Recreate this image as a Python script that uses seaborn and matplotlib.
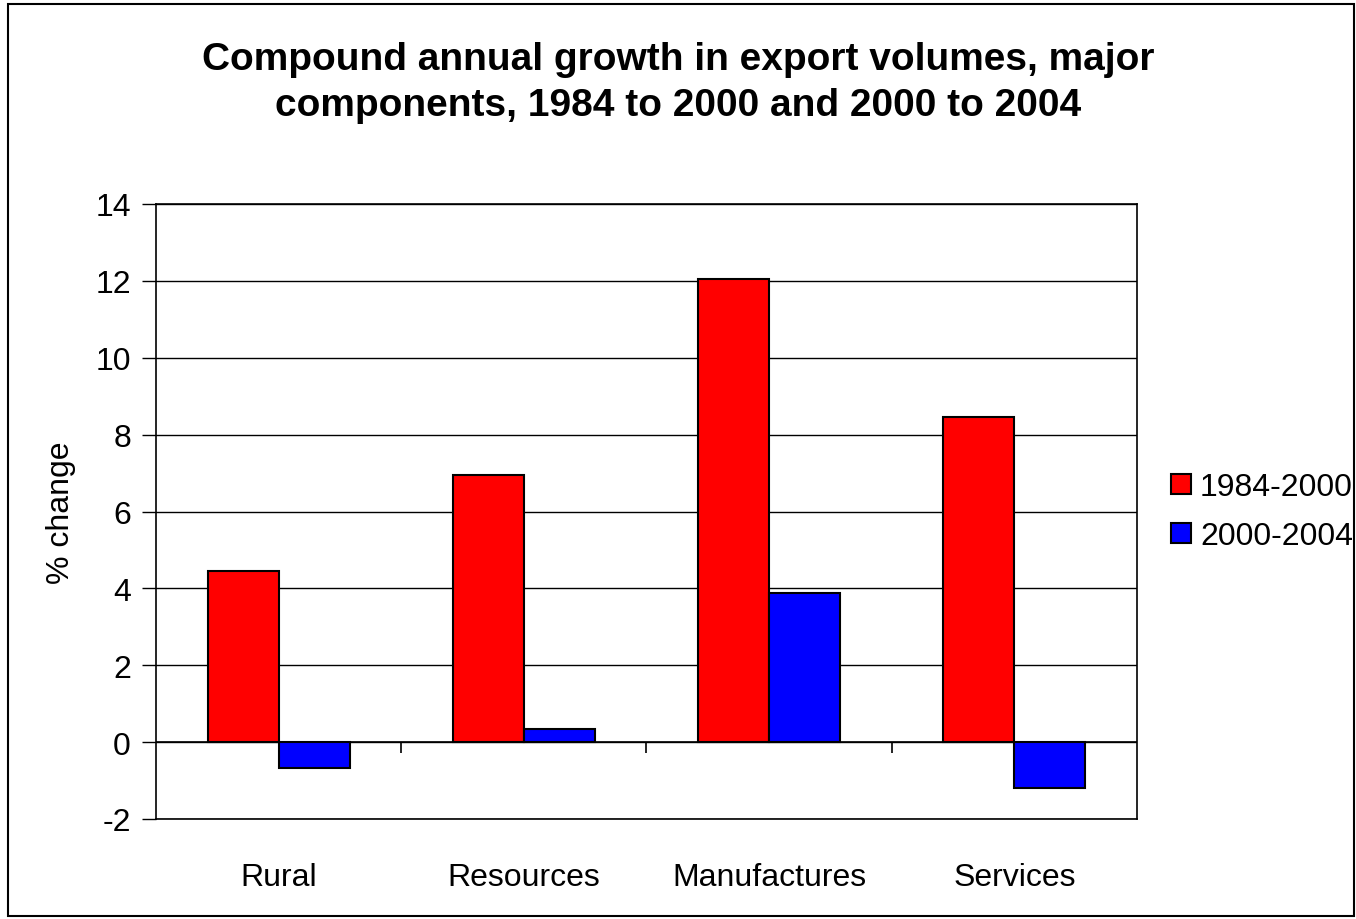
import numpy as np
import pandas as pd
import matplotlib
matplotlib.use("Agg")
import matplotlib.pyplot as plt
import seaborn as sns
from matplotlib.patches import Rectangle

categories = ["Rural", "Resources", "Manufactures", "Services"]
series_names = ["1984-2000", "2000-2004"]
values_1984_2000 = [4.45, 6.95, 12.05, 8.45]
values_2000_2004 = [-0.68, 0.35, 3.87, -1.2]
colors = ["#FF0000", "#0000FF"]
yticks = [-2, 0, 2, 4, 6, 8, 10, 12, 14]

df = pd.DataFrame({
    "category": categories * 2,
    "period": [series_names[0]] * 4 + [series_names[1]] * 4,
    "value": values_1984_2000 + values_2000_2004,
})

sns.set_theme(style="white")
plt.rcParams["font.family"] = ["Liberation Sans", "DejaVu Sans"]
plt.rcParams["text.color"] = "black"
plt.rcParams["axes.labelcolor"] = "black"
plt.rcParams["xtick.color"] = "black"
plt.rcParams["ytick.color"] = "black"

fig = plt.figure(figsize=(13.56, 9.2), dpi=100)
ax = fig.add_axes([156 / 1356, 1 - 820 / 920, (1137 - 156) / 1356, (820 - 205) / 920])

sns.barplot(data=df, x="category", y="value", hue="period", order=categories,
            hue_order=series_names, palette=colors, width=0.58, saturation=1,
            edgecolor="black", linewidth=1.5, ax=ax, zorder=3)

ax.set_ylim(-2, 14)
ax.set_xlim(-0.5, len(categories) - 0.5)
ax.set_yticks(yticks)
ax.set_yticklabels([str(t) for t in yticks], fontsize=23)
ax.yaxis.grid(True, color="black", linewidth=1, zorder=0)
ax.set_axisbelow(True)
ax.tick_params(axis="y", direction="out", length=10, width=1, color="black", pad=8, left=True)
ax.set_xticks(range(len(categories)))
ax.set_xticklabels(categories, fontsize=23)
ax.tick_params(axis="x", length=0, pad=31)
ax.set_xlabel("")
ax.set_ylabel("% change", fontsize=23, labelpad=14)

for s in ax.spines.values():
    s.set_visible(True)
    s.set_color("black")
    s.set_linewidth(1.2)

# zero axis line with category separator ticks
ax.axhline(0, color="black", linewidth=1.2, zorder=4)
sep = np.arange(len(categories) - 1) + 0.5
ax.vlines(sep, -0.27, 0, color="black", linewidth=1.2, zorder=4)

leg = ax.legend(loc="center left", bbox_to_anchor=(1.035, 0.5), frameon=False,
                fontsize=23, handlelength=0.6, handleheight=0.6, handletextpad=0.3,
                labelspacing=0.6, borderaxespad=0, borderpad=0)
for t in leg.get_texts():
    t.set_color("black")

fig.suptitle("Compound annual growth in export volumes, major\ncomponents, 1984 to 2000 and 2000 to 2004",
             fontsize=28, fontweight="bold", y=1 - 42 / 920, va="top", linespacing=1.35,
             color="black")

fig.patches.append(Rectangle((8 / 1356, 3 / 920), 1 - 10 / 1356, 1 - 8 / 920,
                             transform=fig.transFigure, fill=False,
                             edgecolor="black", linewidth=1.5))

fig.savefig("out.png", dpi=100, facecolor="white")
